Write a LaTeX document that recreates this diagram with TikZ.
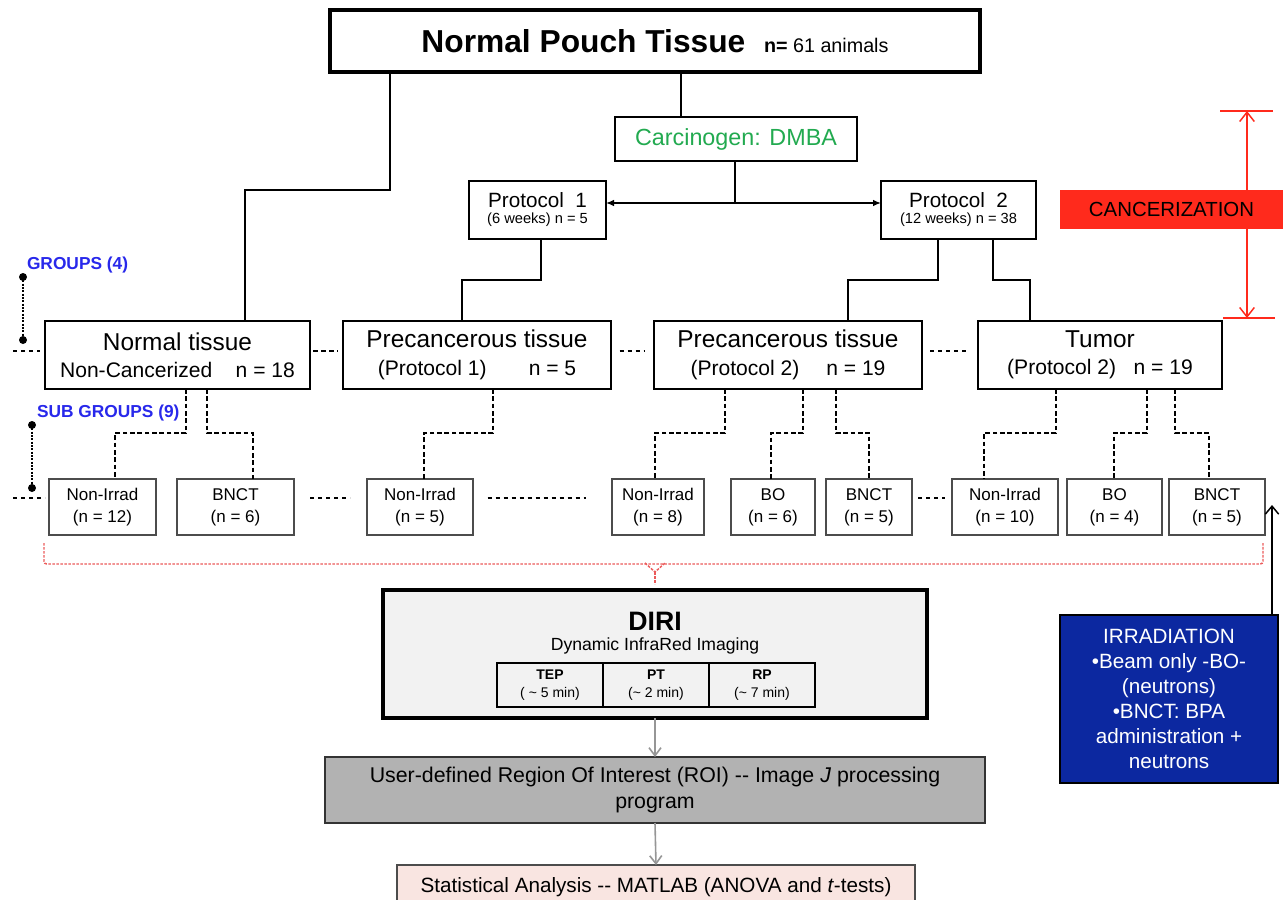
\documentclass[tikz,border=0pt]{standalone}
\usepackage{fontspec}
\setmainfont{Liberation Sans}
\usetikzlibrary{arrows.meta}
\definecolor{grpblue}{RGB}{40,40,235}
\definecolor{dmbagreen}{RGB}{34,170,80}
\definecolor{cancred}{RGB}{255,42,28}
\definecolor{irrblue}{RGB}{12,40,160}
\definecolor{diribg}{RGB}{242,242,242}
\definecolor{roibg}{RGB}{178,178,178}
\definecolor{statbg}{RGB}{249,229,225}
\definecolor{redline}{RGB}{235,90,90}
\definecolor{arrgray}{RGB}{150,150,150}
\begin{document}
\begin{tikzpicture}[x=0.75pt,y=-0.75pt,
  every node/.style={inner sep=0pt,outer sep=0pt,align=center},
  topbox/.style={draw,line width=3pt,fill=white},
  midbox/.style={draw,line width=1.9pt,fill=white},
  grpbox/.style={draw,line width=1.1pt,fill=white,minimum height=51pt,font=\fontsize{18.3}{20.5}\selectfont},
  subbox/.style={draw=black!70,line width=1pt,fill=white,minimum height=42pt,font=\fontsize{12.75}{16.5}\selectfont},
  link/.style={line width=1.1pt},
  dlink/.style={line width=1pt,dash pattern=on 3.5pt off 2pt},
  sepline/.style={line width=0.9pt,dash pattern=on 3.2pt off 2.8pt},
  dotline/.style={line width=0.8pt,dash pattern=on 1.5pt off 1pt},
  grplabel/.style={anchor=west,text=grpblue,font=\fontsize{13}{15}\selectfont\bfseries},
  cellbox/.style={draw,line width=1.1pt,minimum width=79.5pt,minimum height=33pt,font=\fontsize{10.5}{14}\selectfont},
  grayarrow/.style={arrgray,line width=1.2pt,-{Straight Barb[length=6pt,width=9pt]}},
]
\useasboundingbox (0,0) rectangle (1283,900);

% ---------- top section ----------
\node[topbox,minimum width=487.5pt,minimum height=46.5pt] (top) at (655,41)
  {{\fontsize{23.8}{26}\selectfont\bfseries Normal Pouch Tissue}\hspace{14pt}{\fontsize{14.8}{16}\selectfont\textbf{n=} 61 animals}};
\node[midbox,minimum width=181.5pt,minimum height=33pt,text=dmbagreen,font=\fontsize{17.5}{20}\selectfont] (carc) at (736,139) {Carcinogen: DMBA};
\node[midbox,minimum width=102.75pt,minimum height=43.5pt] (p1) at (537.5,210)
  {{\fontsize{15.5}{18}\selectfont Protocol\ \ 1}\\{\fontsize{11}{14}\selectfont (6 weeks) n = 5}};
\node[midbox,minimum width=116.25pt,minimum height=43.5pt] (p2) at (958.5,210)
  {{\fontsize{15.5}{18}\selectfont Protocol\ \ 2}\\{\fontsize{11}{14}\selectfont (12 weeks) n = 38}};

% ---------- groups ----------
\node[grpbox,minimum width=198.75pt] (nt) at (177.5,355)
  {Normal tissue\\{\fontsize{15.8}{18.5}\selectfont Non-Cancerized\ \ \ \ n = 18}};
\node[grpbox,minimum width=201pt] (pc1) at (477,355)
  {Precancerous tissue\\{\fontsize{15.8}{18.5}\selectfont (Protocol 1)\qquad n = 5}};
\node[grpbox,minimum width=201pt] (pc2) at (788,355)
  {Precancerous tissue\\{\fontsize{15.8}{18.5}\selectfont (Protocol 2)\quad\ n = 19}};
\node[grpbox,minimum width=183pt] (tum) at (1100,355)
  {Tumor\\{\fontsize{15.8}{18.5}\selectfont (Protocol 2)\ \ \ n = 19}};

% ---------- sub groups ----------
\node[subbox,minimum width=80.25pt] (s1) at (102.5,507) {Non-Irrad\\(n = 12)};
\node[subbox,minimum width=87.75pt] (s2) at (235.5,507) {BNCT\\(n = 6)};
\node[subbox,minimum width=79.5pt] (s3) at (420,507) {Non-Irrad\\(n = 5)};
\node[subbox,minimum width=69pt] (s4) at (658,507) {Non-Irrad\\(n = 8)};
\node[subbox,minimum width=63pt] (s5) at (773,507) {BO\\(n = 6)};
\node[subbox,minimum width=64.5pt] (s6) at (869,507) {BNCT\\(n = 5)};
\node[subbox,minimum width=79.5pt] (s7) at (1005,507) {Non-Irrad\\(n = 10)};
\node[subbox,minimum width=71.25pt] (s8) at (1114.5,507) {BO\\(n = 4)};
\node[subbox,minimum width=72pt] (s9) at (1217,507) {BNCT\\(n = 5)};

% ---------- solid links ----------
\coordinate (t1) at (390,190); \coordinate (t2) at (245,190);
\coordinate (t3) at (681,100);
\coordinate (j1) at (735,203);
\coordinate (a1) at (541,280); \coordinate (a2) at (462,280);
\coordinate (b1) at (938,280); \coordinate (b2) at (848,280);
\coordinate (b3) at (993,280); \coordinate (b4) at (1030,280);
\draw[link] (top.south -| t1) -- (t1) -- (t2) -- (nt.north -| t2);
\draw[link] (top.south -| t3) -- (carc.north -| t3);
\draw[link] (carc.south -| j1) -- (j1);
\draw[link,{Latex[length=6pt,width=5pt]}-{Latex[length=6pt,width=5pt]}] (p1.east |- j1) -- (p2.west |- j1);
\draw[link] (p1.south -| a1) -- (a1) -- (a2) -- (pc1.north -| a2);
\draw[link] (p2.south -| b1) -- (b1) -- (b2) -- (pc2.north -| b2);
\draw[link] (p2.south -| b3) -- (b3) -- (b4) -- (tum.north -| b4);

% ---------- dashed links to sub groups ----------
\coordinate (d1) at (186,433); \coordinate (e1) at (115,433);
\coordinate (d2) at (207,433); \coordinate (e2) at (253,433);
\coordinate (d3) at (493,433); \coordinate (e3) at (424,433);
\coordinate (d4) at (725,433); \coordinate (e4) at (655,433);
\coordinate (d5) at (803,433); \coordinate (e5) at (771,433);
\coordinate (d6) at (836,433); \coordinate (e6) at (869,433);
\coordinate (d7) at (1056,433); \coordinate (e7) at (984,433);
\coordinate (d8) at (1147,433); \coordinate (e8) at (1114,433);
\coordinate (d9) at (1175,433); \coordinate (e9) at (1209,433);
\draw[dlink] (nt.south -| d1) -- (d1) -- (e1) -- (s1.north -| e1);
\draw[dlink] (nt.south -| d2) -- (d2) -- (e2) -- (s2.north -| e2);
\draw[dlink] (pc1.south -| d3) -- (d3) -- (e3) -- (s3.north -| e3);
\draw[dlink] (pc2.south -| d4) -- (d4) -- (e4) -- (s4.north -| e4);
\draw[dlink] (pc2.south -| d5) -- (d5) -- (e5) -- (s5.north -| e5);
\draw[dlink] (pc2.south -| d6) -- (d6) -- (e6) -- (s6.north -| e6);
\draw[dlink] (tum.south -| d7) -- (d7) -- (e7) -- (s7.north -| e7);
\draw[dlink] (tum.south -| d8) -- (d8) -- (e8) -- (s8.north -| e8);
\draw[dlink] (tum.south -| d9) -- (d9) -- (e9) -- (s9.north -| e9);

% ---------- separators ----------
\coordinate (gl) at (13,351); \coordinate (sl) at (13,498);
\draw[sepline] (gl) -- (gl -| 40,0);
\draw[sepline] ([xshift=2.5pt]nt.east |- gl) -- ([xshift=-3.5pt]pc1.west |- gl);
\draw[sepline] ([xshift=6.5pt]pc1.east |- gl) -- ([xshift=-6.5pt]pc2.west |- gl);
\draw[sepline] ([xshift=6pt]pc2.east |- gl) -- ([xshift=-6.5pt]tum.west |- gl);
\draw[sepline] (sl) -- (sl -| 45,0);
\draw[sepline] ([xshift=12pt]s2.east |- sl) -- ([xshift=-12.75pt]s3.west |- sl);
\draw[sepline] ([xshift=11pt]s3.east |- sl) -- ([xshift=-19.5pt]s4.west |- sl);
\draw[sepline] ([xshift=4.5pt]s6.east |- sl) -- ([xshift=-5.25pt]s7.west |- sl);

% ---------- group labels ----------
\node[grplabel] (glab) at (27,265) {GROUPS (4)};
\node[grplabel] (slab) at (37,413) {SUB GROUPS (9)};
\coordinate (g1) at (23,277); \coordinate (g2) at (23,340);
\coordinate (h1) at (32,425); \coordinate (h2) at (32,488);
\draw[dotline] (g1) -- (g2);
\draw[dotline] (h1) -- (h2);
\fill (g1) circle (3pt); \fill (g2) circle (3pt);
\fill (h1) circle (3pt); \fill (h2) circle (3pt);

% ---------- cancerization ----------
\coordinate (ct) at (1247,111); \coordinate (cb) at (1247,318);
\draw[cancred,line width=1pt] (1220,111) -- (1273,111);
\draw[cancred,line width=1pt] (1223,318) -- (1275,318);
\draw[cancred,line width=1.1pt,{Straight Barb[length=7pt,width=11pt]}-{Straight Barb[length=7pt,width=11pt]}] (ct) -- (cb);
\node[fill=cancred,minimum width=167.25pt,minimum height=29.25pt,font=\fontsize{15.3}{18}\selectfont] (canc) at (1171.5,209.5) {CANCERIZATION};

% ---------- red bracket ----------
\draw[redline,line width=1.1pt,dash pattern=on 2pt off 1pt,rounded corners=2pt]
  ([shift={(-5,8)}]s1.south west) -- ([shift={(-5,29)}]s1.south west) -- ([shift={(-2,29)}]s9.south east) -- ([shift={(-2,8)}]s9.south east);
\coordinate (n0) at (655,563); \coordinate (n1) at (655,572); \coordinate (n2) at (655,584);
\draw[redline,line width=1.1pt,dash pattern=on 2pt off 1pt] ([xshift=-7.5pt]n0) -- (n1) -- ([xshift=7.5pt]n0);
\draw[redline,line width=1.1pt,dash pattern=on 2pt off 1pt] (n1) -- (n2);

% ---------- irradiation ----------
\node[draw,line width=2.2pt,fill=irrblue,text=white,minimum width=163.5pt,minimum height=126pt,font=\fontsize{15.5}{18.75}\selectfont] (irr) at (1169,699)
  {IRRADIATION\\\textbullet Beam only -BO-\\(neutrons)\\\textbullet BNCT: BPA\\administration +\\neutrons};
\coordinate (ia) at (1272,505);
\draw[line width=1.1pt,-{Straight Barb[length=6pt,width=10pt]}] (irr.north -| ia) -- (ia);

% ---------- DIRI ----------
\node[draw,line width=3pt,fill=diribg,minimum width=408pt,minimum height=96pt] (diri) at (655,654) {};
\node[font=\fontsize{20}{22}\selectfont\bfseries] (diriT) at (655,621) {DIRI};
\node[font=\fontsize{13.2}{15}\selectfont] (diriS) at (655,646) {Dynamic InfraRed Imaging};
\node[cellbox] (tep) at (550,685) {\textbf{TEP}\\( \textasciitilde{} 5 min)};
\node[cellbox] (pt) at (656,685) {\textbf{PT}\\(\textasciitilde{} 2 min)};
\node[cellbox] (rp) at (762,685) {\textbf{RP}\\(\textasciitilde{} 7 min)};

% ---------- analysis ----------
\node[draw=black!80,line width=1.3pt,fill=roibg,minimum width=495pt,minimum height=49.5pt,font=\fontsize{16}{19}\selectfont] (roi) at (655,790)
  {User-defined Region Of Interest (ROI) {-}{-} Image \textit{J} processing\\program};
\node[draw=black!70,line width=1pt,fill=statbg,minimum width=388.5pt,minimum height=33.75pt,font=\fontsize{15.5}{18}\selectfont] (stat) at (656,887.5)
  {Statistical Analysis {-}{-} MATLAB (ANOVA and \textit{t}-tests)};
\draw[grayarrow] (diri.south) -- (roi.north);
\draw[grayarrow] (roi.south) -- (stat.north);
\end{tikzpicture}
\end{document}
